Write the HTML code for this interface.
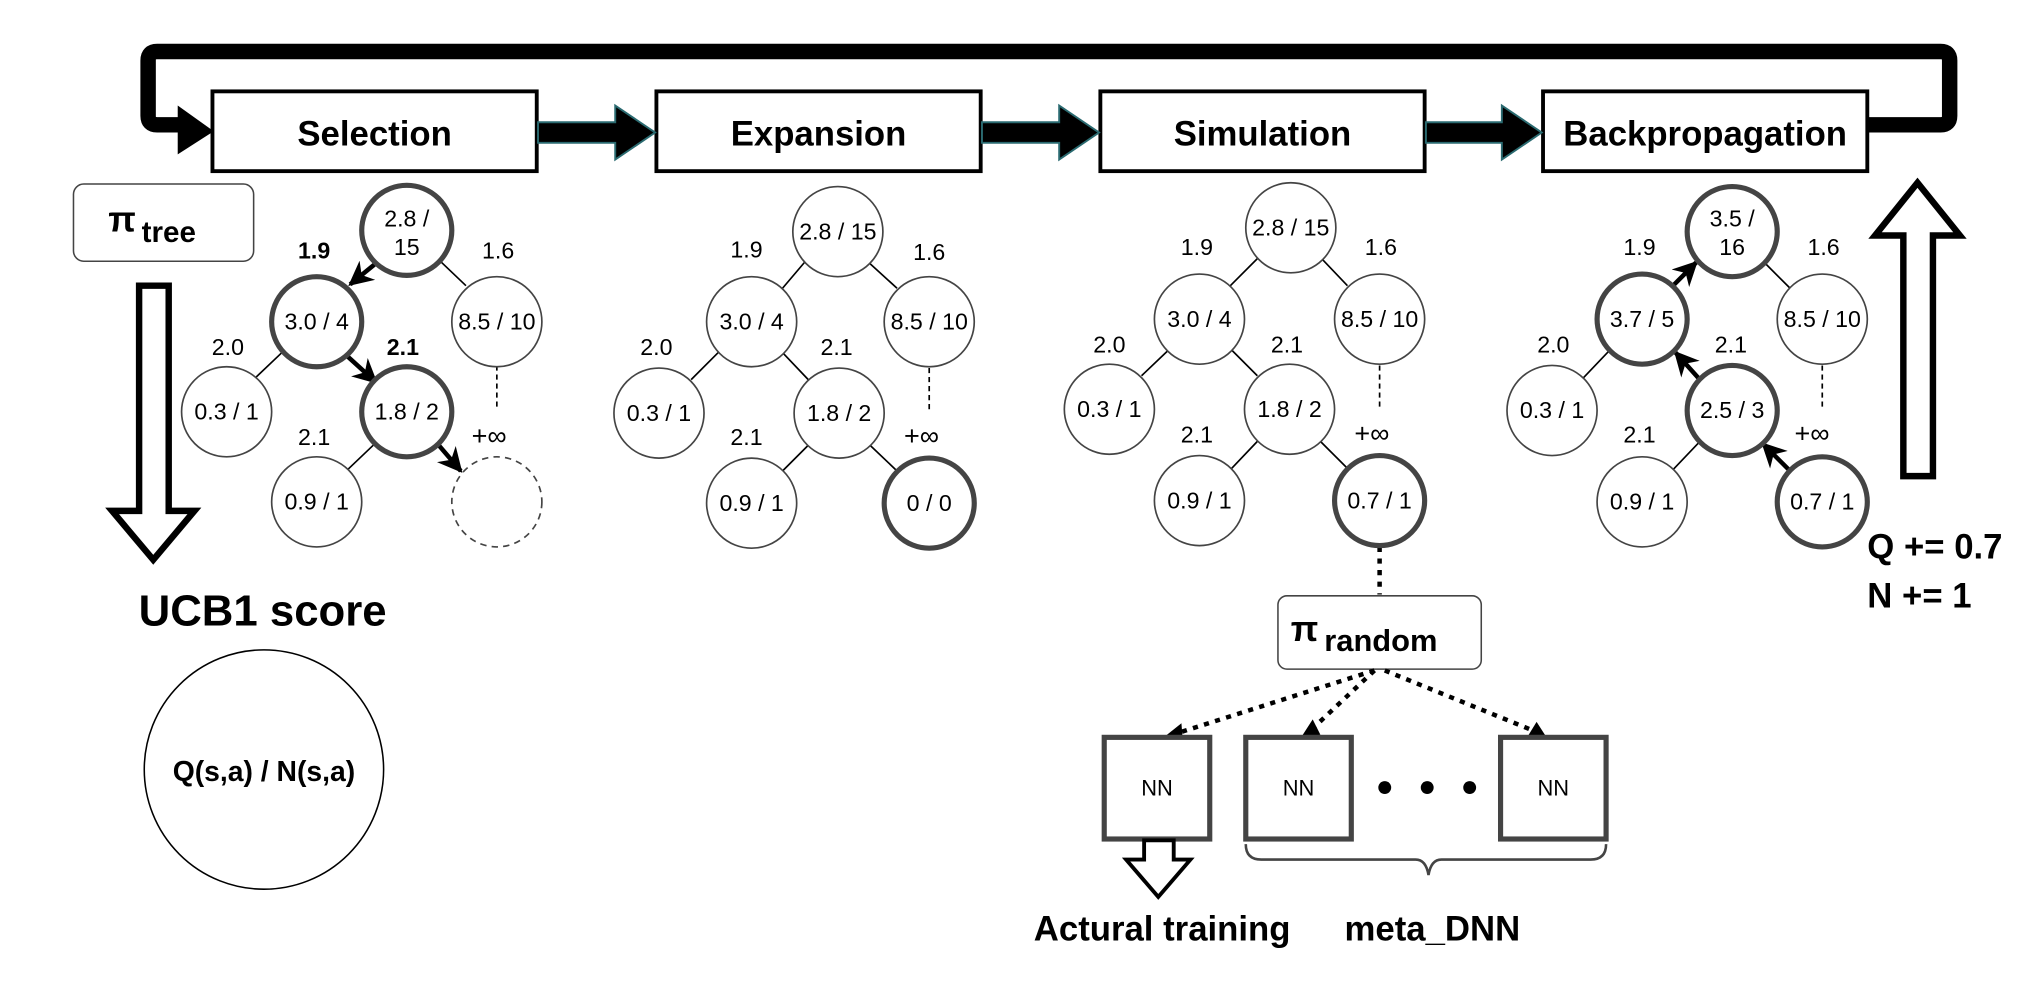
<!DOCTYPE html>
<html><head><style>html,body{margin:0;padding:0;background:#fff}svg{display:block}</style></head>
<body>
<svg width="2018" height="996" viewBox="0 0 1568 774" xmlns="http://www.w3.org/2000/svg" font-family="Liberation Sans, Arial, sans-serif">
<defs>
<marker id="ah" viewBox="0 0 10 10" refX="9" refY="5" markerWidth="5.5" markerHeight="5.5" orient="auto"><path d="M0,0 L10,5 L0,10 L3,5 z" fill="#000"/></marker>
</defs>
<rect width="1568" height="774" fill="#fff"/>
<path d="M1452,97 L1508,97 Q1515,97 1515,90 L1515,47 Q1515,40 1508,40 L122,40 Q115,40 115,47 L115,90 Q115,97 122,97 L140,97" fill="none" stroke="#000" stroke-width="12"/>
<path d="M138,82 L166,102 L138,120 z" fill="#000"/>
<g fill="#fff" stroke="#000" stroke-width="3">
<rect x="165" y="71" width="252" height="62"/>
<rect x="510" y="71" width="252" height="62"/>
<rect x="855" y="71" width="252" height="62"/>
<rect x="1199" y="71" width="252" height="62"/>
</g>
<g font-weight="bold" font-size="27" text-anchor="middle">
<text x="291" y="113">Selection</text>
<text x="636" y="113">Expansion</text>
<text x="981" y="113">Simulation</text>
<text x="1325" y="113">Backpropagation</text>
</g>
<g fill="#000" stroke="#2a6a70" stroke-width="1.5">
<path d="M418,95 L478,95 L478,82 L509,103 L478,124 L478,111 L418,111 z"/>
<path d="M763,95 L823,95 L823,82 L854,103 L823,124 L823,111 L763,111 z"/>
<path d="M1108,95 L1167,95 L1167,82 L1198,103 L1167,124 L1167,111 L1108,111 z"/>
</g>
<rect x="57" y="143" width="140" height="60" rx="8" fill="#fff" stroke="#444" stroke-width="1.2"/>
<text x="84" y="180" font-size="28" font-weight="bold">π</text>
<text x="110" y="188" font-size="23" font-weight="bold">tree</text>
<path d="M108,222 L131,222 L131,397 L151,397 L119,435 L87,397 L108,397 z" fill="#fff" stroke="#000" stroke-width="5"/>
<text x="204" y="486" font-size="34" font-weight="bold" text-anchor="middle">UCB1 score</text>
<circle cx="205" cy="598" r="93" fill="#fff" stroke="#000" stroke-width="1.2"/>
<text x="205" y="607" font-size="22" font-weight="bold" text-anchor="middle">Q(s,a) / N(s,a)</text>

<!-- Tree 1 -->
<g stroke="#000" stroke-width="1.3">
<line x1="341" y1="202" x2="362" y2="222"/>
<line x1="220" y1="273" x2="199" y2="293"/>
<line x1="291" y1="345" x2="270" y2="365"/>
<line x1="386" y1="284" x2="386" y2="318" stroke-dasharray="4,3"/>
</g>
<g stroke="#000" stroke-width="3.5" marker-end="url(#ah)" fill="none">
<line x1="294" y1="203" x2="272" y2="221"/>
<line x1="270" y1="277" x2="292" y2="297"/>
<line x1="340" y1="345" x2="358" y2="366"/>
</g>
<g fill="#fff" stroke="#444">
<circle cx="316" cy="179" r="35" stroke-width="4"/>
<circle cx="246" cy="250" r="35" stroke-width="4"/>
<circle cx="386" cy="250" r="35" stroke-width="1.3"/>
<circle cx="176" cy="320" r="35" stroke-width="1.3"/>
<circle cx="316" cy="320" r="35" stroke-width="4"/>
<circle cx="246" cy="390" r="35" stroke-width="1.3"/>
<circle cx="386" cy="390" r="35" stroke-width="1.3" stroke-dasharray="5,4"/>
</g>
<g font-size="18" text-anchor="middle">
<text x="316" y="176">2.8 /</text><text x="316" y="198">15</text>
<text x="246" y="256">3.0 / 4</text>
<text x="386" y="256">8.5 / 10</text>
<text x="176" y="326">0.3 / 1</text>
<text x="316" y="326">1.8 / 2</text>
<text x="246" y="396">0.9 / 1</text>
<text x="244" y="201" font-weight="bold">1.9</text>
<text x="387" y="201">1.6</text>
<text x="177" y="276">2.0</text>
<text x="313" y="276" font-weight="bold">2.1</text>
<text x="244" y="346">2.1</text>
<text x="380" y="346" font-size="21">+∞</text>
</g>

<!-- Tree 2 -->
<g stroke="#000" stroke-width="1.3">
<line x1="625" y1="204" x2="608" y2="224"/>
<line x1="675" y1="204" x2="697" y2="224"/>
<line x1="558" y1="274" x2="537" y2="295"/>
<line x1="608" y1="274" x2="628" y2="295"/>
<line x1="628" y1="346" x2="608" y2="366"/>
<line x1="676" y1="346" x2="697" y2="366"/>
<line x1="722" y1="286" x2="722" y2="320" stroke-dasharray="4,3"/>
</g>
<g fill="#fff" stroke="#444">
<circle cx="651" cy="180" r="35" stroke-width="1.3"/>
<circle cx="584" cy="250" r="35" stroke-width="1.3"/>
<circle cx="722" cy="250" r="35" stroke-width="1.3"/>
<circle cx="512" cy="321" r="35" stroke-width="1.3"/>
<circle cx="652" cy="321" r="35" stroke-width="1.3"/>
<circle cx="584" cy="391" r="35" stroke-width="1.3"/>
<circle cx="722" cy="391" r="35" stroke-width="4"/>
</g>
<g font-size="18" text-anchor="middle">
<text x="651" y="186">2.8 / 15</text>
<text x="584" y="256">3.0 / 4</text>
<text x="722" y="256">8.5 / 10</text>
<text x="512" y="327">0.3 / 1</text>
<text x="652" y="327">1.8 / 2</text>
<text x="584" y="397">0.9 / 1</text>
<text x="722" y="397">0 / 0</text>
<text x="580" y="200">1.9</text>
<text x="722" y="202">1.6</text>
<text x="510" y="276">2.0</text>
<text x="650" y="276">2.1</text>
<text x="580" y="346">2.1</text>
<text x="716" y="346" font-size="21">+∞</text>
</g>

<!-- Tree 3 -->
<g stroke="#000" stroke-width="1.3">
<line x1="977" y1="201" x2="956" y2="222"/>
<line x1="1027" y1="201" x2="1047" y2="222"/>
<line x1="908" y1="272" x2="887" y2="292"/>
<line x1="957" y1="272" x2="977" y2="292"/>
<line x1="977" y1="343" x2="957" y2="364"/>
<line x1="1026" y1="343" x2="1047" y2="364"/>
<line x1="1072" y1="284" x2="1072" y2="318" stroke-dasharray="4,3"/>
<line x1="1072" y1="425" x2="1072" y2="462" stroke-width="3.5" stroke-dasharray="4,5"/>
</g>
<g fill="#fff" stroke="#444">
<circle cx="1003" cy="177" r="35" stroke-width="1.3"/>
<circle cx="932" cy="248" r="35" stroke-width="1.3"/>
<circle cx="1072" cy="248" r="35" stroke-width="1.3"/>
<circle cx="862" cy="318" r="35" stroke-width="1.3"/>
<circle cx="1002" cy="318" r="35" stroke-width="1.3"/>
<circle cx="932" cy="389" r="35" stroke-width="1.3"/>
<circle cx="1072" cy="389" r="35" stroke-width="4"/>
</g>
<g font-size="18" text-anchor="middle">
<text x="1003" y="183">2.8 / 15</text>
<text x="932" y="254">3.0 / 4</text>
<text x="1072" y="254">8.5 / 10</text>
<text x="862" y="324">0.3 / 1</text>
<text x="1002" y="324">1.8 / 2</text>
<text x="932" y="395">0.9 / 1</text>
<text x="1072" y="395">0.7 / 1</text>
<text x="930" y="198">1.9</text>
<text x="1073" y="198">1.6</text>
<text x="862" y="274">2.0</text>
<text x="1000" y="274">2.1</text>
<text x="930" y="344">2.1</text>
<text x="1066" y="344" font-size="21">+∞</text>
</g>
<rect x="993" y="463" width="158" height="57" rx="7" fill="#fff" stroke="#444" stroke-width="1.2"/>
<text x="1003" y="498" font-size="28" font-weight="bold">π</text>
<text x="1029" y="506" font-size="24" font-weight="bold">random</text>
<g stroke="#000" stroke-width="3.5" stroke-dasharray="4,5" fill="none">
<line x1="1068" y1="521" x2="914" y2="570"/>
<line x1="1068" y1="521" x2="1018" y2="568"/>
<line x1="1076" y1="521" x2="1192" y2="568"/>
</g>
<g fill="#000">
<path d="M903,574 L918,562 L919,575 z"/>
<path d="M1011,573 L1020,559 L1026,571 z"/>
<path d="M1203,575 L1186,574 L1194,561 z"/>
</g>
<g fill="#fff" stroke="#444" stroke-width="4">
<rect x="858" y="573" width="82" height="79"/>
<rect x="968" y="573" width="82" height="79"/>
<rect x="1166" y="573" width="82" height="79"/>
</g>
<g font-size="17" text-anchor="middle">
<text x="899" y="618">NN</text><text x="1009" y="618">NN</text><text x="1207" y="618">NN</text>
</g>
<circle cx="1076" cy="612" r="5"/><circle cx="1109" cy="612" r="5"/><circle cx="1142" cy="612" r="5"/>
<path d="M968,656 Q968,668 980,668 L1100,668 Q1108,668 1110,680 Q1112,668 1120,668 L1236,668 Q1248,668 1248,656" fill="none" stroke="#444" stroke-width="2"/>
<path d="M889,653 L912,653 L912,668 L925,668 L900,697 L875,668 L889,668 z" fill="#fff" stroke="#000" stroke-width="3"/>
<text x="903" y="731" font-size="27" font-weight="bold" text-anchor="middle">Actural training</text>
<text x="1113" y="731" font-size="27" font-weight="bold" text-anchor="middle">meta_DNN</text>

<!-- Tree 4 -->
<g stroke="#000" stroke-width="1.3">
<line x1="1371" y1="204" x2="1391" y2="224"/>
<line x1="1250" y1="273" x2="1230" y2="294"/>
<line x1="1320" y1="344" x2="1300" y2="365"/>
<line x1="1416" y1="284" x2="1416" y2="318" stroke-dasharray="4,3"/>
</g>
<g stroke="#000" stroke-width="3.5" marker-end="url(#ah)" fill="none">
<line x1="1300" y1="222" x2="1318" y2="204"/>
<line x1="1320" y1="294" x2="1302" y2="274"/>
<line x1="1390" y1="365" x2="1370" y2="345"/>
</g>
<g fill="#fff" stroke="#444">
<circle cx="1346" cy="180" r="35" stroke-width="4"/>
<circle cx="1276" cy="248" r="35" stroke-width="4"/>
<circle cx="1416" cy="248" r="35" stroke-width="1.3"/>
<circle cx="1206" cy="319" r="35" stroke-width="1.3"/>
<circle cx="1346" cy="319" r="35" stroke-width="4"/>
<circle cx="1276" cy="390" r="35" stroke-width="1.3"/>
<circle cx="1416" cy="390" r="35" stroke-width="4"/>
</g>
<g font-size="18" text-anchor="middle">
<text x="1346" y="176">3.5 /</text><text x="1346" y="198">16</text>
<text x="1276" y="254">3.7 / 5</text>
<text x="1416" y="254">8.5 / 10</text>
<text x="1206" y="325">0.3 / 1</text>
<text x="1346" y="325">2.5 / 3</text>
<text x="1276" y="396">0.9 / 1</text>
<text x="1416" y="396">0.7 / 1</text>
<text x="1274" y="198">1.9</text>
<text x="1417" y="198">1.6</text>
<text x="1207" y="274">2.0</text>
<text x="1345" y="274">2.1</text>
<text x="1274" y="344">2.1</text>
<text x="1408" y="344" font-size="21">+∞</text>
</g>
<path d="M1479,370 L1502,370 L1502,183 L1523,183 L1490,142 L1457,183 L1479,183 z" fill="#fff" stroke="#000" stroke-width="5"/>
<text x="1451" y="434" font-size="27" font-weight="bold">Q += 0.7</text>
<text x="1451" y="472" font-size="27" font-weight="bold">N += 1</text>
</svg>
</body></html>
